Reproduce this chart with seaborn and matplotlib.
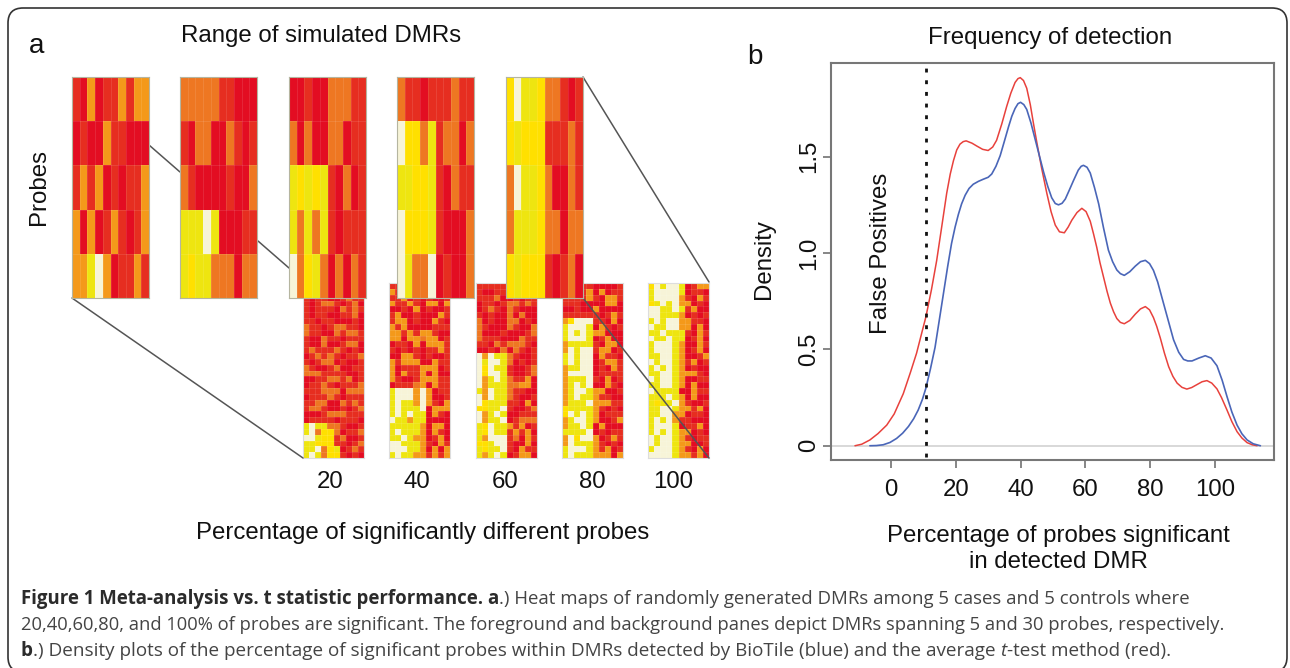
import numpy as np
import pandas as pd
import matplotlib
matplotlib.use('Agg')
import matplotlib.pyplot as plt
import seaborn as sns
from matplotlib.colors import ListedColormap
from matplotlib.lines import Line2D
from matplotlib.patches import FancyBboxPatch
from matplotlib.transforms import IdentityTransform

# heat map cell codes: 0 cream, 1 gold, 2 lemon, 3 amber, 4 orange, 5 red-orange, 6 red
front_20 = ['5636553533', '6566355666', '5353656553', '3636535653', '3320365535']
front_40 = ['4444455666', '5644664565', '4566665664', '2220266655', '2122444644']
front_60 = ['6656644455', '4646644655', '2121256465', '2424256555', '0412464645']
front_80 = ['4556555455', '0114254464', '2211256455', '0111256664', '0244065664']
front_100 = ['1022144565', '1211155545', '4022146645', '4222144644', '1211156546']

back_20 = ['5545565645', '6556544565', '5655665455', '5654456546',
           '5655564545', '5655665546', '5565566656', '4556544556',
           '4556645445', '5664556555', '5664665446', '5455545656',
           '6545456554', '5654465665', '4566546655', '4445555665',
           '6655445465', '6554565554', '5554446444', '6555456555',
           '5544664545', '5445665654', '6665444555', '6555565556',
           '2022445665', '2041146554', '0021154665', '2211155654',
           '2204126545', '2024115656']
back_40 = ['5565366655', '3565566356', '5536565665', '3553563363',
           '6656365665', '5366566635', '5336566356', '3536666555',
           '3353533566', '3363343365', '6556363335', '5656565535',
           '6633565665', '3533366355', '3655533365', '3635536366',
           '3566533355', '6555436355', '2000303655', '2000303665',
           '2022303563', '2022206333', '2020226356', '0223226666',
           '2222236336', '2022236356', '2202336536', '0022235635',
           '0002236363', '2022335353']
back_60 = ['5555556655', '5665565565', '5554665655', '6556544545',
           '6545645666', '5656646466', '4656644656', '4566645664',
           '4666566654', '4555666455', '5564544456', '6656464565',
           '0302245665', '0200246565', '0102256654', '0100256654',
           '0320245536', '0322244336', '2302245566', '0302245665',
           '0122255636', '1122056654', '0320266555', '0322065444',
           '2102235365', '2102253536', '2300054635', '1120056636',
           '2122056355', '2320265336']
back_80 = ['5555566665', '5555363655', '5555356335', '5556666336',
           '6656636666', '5555556535', '3100055636', '2000263565',
           '2020233666', '2000265366', '3222256336', '3020053365',
           '2020063556', '2020065335', '3220065635', '3000065555',
           '3222056365', '3202066356', '3200233665', '3202235566',
           '3222033355', '1222235656', '1020236555', '3200236653',
           '3220263666', '2222065655', '3010036535', '3022235656',
           '2000235365', '2022233363']
back_100 = ['1020026533', '2000026556', '2000035635', '1202033656',
            '0022025366', '0022236565', '2020033556', '0220033636',
            '2202225635', '0220226536', '2000236635', '2000236536',
            '2200236653', '0200235365', '2020236566', '2200233356',
            '0200236655', '2200236366', '0222266355', '2220236366',
            '2122035665', '2200233536', '2200336556', '2020355666',
            '2000265536', '2020233656', '0200235655', '0200233665',
            '2000235636', '0000233536']

front_panes = [front_20, front_40, front_60, front_80, front_100]
back_panes = [back_20, back_40, back_60, back_80, back_100]
pane_labels = ['20', '40', '60', '80', '100']
cell_colors = ['#F7F4D8', '#FFE000', '#EEE510', '#F4991A', '#EE7722', '#E62E20', '#E30D22']

# density curves
red_x = [-11.1, -9, -6.5, -4, -1.3, 1, 3.8, 6, 7.9, 9.5, 10.8, 12.5, 14.1, 15.7, 17.2, 18.3, 19.3, 20.3,
         21.3, 22.3, 23.2, 25, 26.5, 28.3, 30, 31.4, 32.6, 34.2, 35.7, 37, 38.3, 39.2, 39.9, 40.9, 41.9,
         43, 44, 45, 46.5, 48.1, 49.4, 50.7, 52, 53.5, 54.7, 55.8, 57.4, 58.9, 60.2, 61.5, 62.5, 63.5,
         64.5, 65.6, 66.7, 67.7, 68.7, 69.7, 70.8, 72, 73.7, 75.4, 77, 78.5, 79.8, 81, 82, 83.1, 84.4,
         85.7, 87, 88.3, 89.8, 91.3, 92.8, 94.4, 96, 97.5, 99, 100.6, 102, 103.7, 105.2, 106.8, 108.3,
         109.9, 111.5, 113]
red_y = [0, .008, .03, .063, .107, .165, .27, .38, .48, .585, .67, .81, .96, 1.14, 1.31, 1.41, 1.48, 1.535,
         1.565, 1.578, 1.582, 1.57, 1.555, 1.538, 1.532, 1.55, 1.585, 1.67, 1.76, 1.83, 1.885, 1.905, 1.91, 1.895, 1.855,
         1.77, 1.67, 1.575, 1.44, 1.31, 1.215, 1.145, 1.11, 1.105, 1.135, 1.17, 1.21, 1.232, 1.215, 1.165, 1.1, 1.03,
         .95, .875, .80, .74, .695, .66, .64, .633, .65, .683, .71, .722, .705, .665, .62, .56, .48,
         .41, .36, .325, .303, .294, .302, .317, .332, .338, .325, .295, .25, .185, .125, .073, .04,
         .016, .005, 0]
blue_x = [-6.5, -4.5, -2.4, -.3, 1.75, 3.6, 5.4, 7, 8.4, 9.7, 10.8, 12.2, 13.6, 14.9, 16.2, 17.5, 18.7, 19.8,
          20.8, 21.8, 22.9, 24.1, 25.4, 27, 28.5, 30, 31.1, 32.4, 33.7, 35, 36.3, 37.3, 38.3, 39.2, 40, 41, 41.9,
          43.2, 44.5, 45.8, 47.1, 48.4, 49.6, 50.7, 51.7, 52.8, 53.8, 55, 56.3, 57.8, 58.7, 59.4, 60.5, 61.5,
          62.8, 64.1, 65.6, 67.1, 68.4, 69.7, 70.8, 72, 73.7, 75.4, 77, 78.5, 79.8, 81, 82.3, 83.6, 85.4, 87.2,
          88.8, 90.3, 91.6, 92.9, 95, 97, 98.8, 100.6, 102.2, 103.7, 105.2, 106.8, 108.3, 109.9, 111.8, 114]
blue_y = [0, .001, .005, .017, .038, .065, .1, .14, .185, .24, .3, .4, .51, .65, .79, .93, 1.05, 1.135,
          1.2, 1.255, 1.3, 1.335, 1.357, 1.372, 1.383, 1.393, 1.41, 1.45, 1.505, 1.58, 1.656, 1.71, 1.75, 1.775, 1.782, 1.77, 1.745,
          1.675, 1.59, 1.505, 1.42, 1.345, 1.287, 1.257, 1.25, 1.258, 1.28, 1.325, 1.375, 1.43, 1.45, 1.455, 1.445, 1.415,
          1.34, 1.255, 1.13, 1.015, .955, .912, .893, .884, .903, .932, .955, .962, .945, .91, .85, .77, .66, .55,
          .485, .448, .44, .44, .455, .467, .455, .415, .34, .255, .175, .107, .062, .03, .01, 0]
x_ticks = [0, 20, 40, 60, 80, 100]
y_ticks = [0, 0.5, 1.0, 1.5]
y_tick_labels = ['0', '0.5', '1.0', '1.5']
cutoff = 10.8

sns.set_theme(style='white')
plt.rcParams['font.family'] = ['Liberation Sans', 'DejaVu Sans']

W, H = 1290, 668
fig = plt.figure(figsize=(12.9, 6.68), dpi=100)
cmap = ListedColormap(cell_colors)


def px_axes(x0, y0, x1, y1, z):
    # axes from pixel box, y counted from the top of the image
    return fig.add_axes([x0 / W, 1 - y1 / H, (x1 - x0) / W, (y1 - y0) / H], zorder=z)


def px_text(x, y, s, **kw):
    kw.setdefault('fontsize', 17.25)
    kw.setdefault('color', '#111111')
    kw.setdefault('ha', 'center')
    kw.setdefault('va', 'center')
    return fig.text(x / W, 1 - y / H, s, **kw)


def draw_pane(rows, box, z, edge):
    ax = px_axes(*box, z)
    cells = np.array([[int(c) for c in r] for r in rows])
    sns.heatmap(cells, vmin=-0.5, vmax=6.5, cmap=cmap, cbar=False, xticklabels=False,
                yticklabels=False, ax=ax)
    # faint cell borders, as in the scanned figure
    ax.hlines(range(1, cells.shape[0]), 0, 10, color='white', alpha=0.12, lw=0.6)
    ax.vlines(range(1, 10), 0, cells.shape[0], color='white', alpha=0.12, lw=0.6)
    for s in ax.spines.values():
        s.set_visible(True)
        s.set_color(edge)
        s.set_linewidth(0.8)


for rows, x in zip(back_panes, [303, 389, 476, 562, 648]):
    draw_pane(rows, (x, 283, x + 61, 458), 1, '#dddddd')
for rows, x in zip(front_panes, [72, 180, 289, 397, 506]):
    draw_pane(rows, (x, 77, x + 77, 298), 6, '#b5b5a0')

link_lines = [(72, 298, 303, 458), (149, 145, 180, 172), (258, 241, 289, 268),
              (583, 77, 709, 282), (583, 298, 709, 458)]
for x0, y0, x1, y1 in link_lines:
    fig.add_artist(Line2D([x0 / W, x1 / W], [1 - y0 / H, 1 - y1 / H], color='#555555', lw=1.1, zorder=5))

# density panel
ax = px_axes(831, 63, 1274, 460, 3)
ax.axhline(0, color='#d8d8d8', lw=1.4, zorder=1)
sns.lineplot(x=red_x, y=red_y, color='#E8413C', lw=1.1, sort=False, errorbar=None, ax=ax)
sns.lineplot(x=blue_x, y=blue_y, color='#4A66B8', lw=1.2, sort=False, errorbar=None, ax=ax)
ax.plot([cutoff, cutoff], [-0.057, 1.958], color='#111111', lw=2, ls=(0, (1.4, 2.8)))
ax.set_xlim(-18.5, 118.2)
ax.set_ylim(-0.074, 1.986)
ax.set_xticks(x_ticks)
ax.set_yticks(y_ticks)
ax.set_yticklabels(y_tick_labels, rotation=90, va='center')
ax.tick_params(axis='both', length=6, width=1.1, color='#666666', labelsize=17.25,
               labelcolor='#111111', left=True, bottom=True)
ax.tick_params(axis='x', pad=8)
ax.tick_params(axis='y', pad=2)
for s in ax.spines.values():
    s.set_visible(True)
    s.set_color('#777777')
    s.set_linewidth(1.5)

# panel text
px_text(37, 46, 'a', fontsize=20)
px_text(755, 57, 'b', fontsize=20)
px_text(321, 36, 'Range of simulated DMRs')
px_text(1050, 38, 'Frequency of detection')
px_text(39, 187, 'Probes', rotation=90)
px_text(764, 259, 'Density', rotation=90)
px_text(881, 253, 'False Positives', rotation=90, zorder=10)
for lab, x in zip(pane_labels, [330, 417, 505, 592, 673]):
    px_text(x, 482, lab)
px_text(423, 533, 'Percentage of significantly different probes')
px_text(1058, 536, 'Percentage of probes significant')
px_text(1058, 562, 'in detected DMR')

# rounded frame round the whole figure
r = 15
fig.add_artist(FancyBboxPatch((8 + r, H - 672 + r), 1279 - 2 * r, 664 - 2 * r,
                              boxstyle='round,pad=%d' % r, transform=IdentityTransform(),
                              fc='none', ec='#333333', lw=1.2))

# caption, written piece by piece so bold and italic runs follow on
cap_lines = [
    [('Figure 1 Meta-analysis vs. t statistic performance. a', 'bold', 'normal'),
     ('.) Heat maps of randomly generated DMRs among 5 cases and 5 controls where', 'normal', 'normal')],
    [('20,40,60,80, and 100% of probes are significant. The foreground and background panes depict DMRs spanning 5 and 30 probes, respectively.', 'normal', 'normal')],
    [('b', 'bold', 'normal'),
     ('.) Density plots of the percentage of significant probes within DMRs detected by BioTile (blue) and the average ', 'normal', 'normal'),
     ('t', 'normal', 'italic'), ('-test method (red).', 'normal', 'normal')],
]
rend = fig.canvas.get_renderer()
for line, base, size in zip(cap_lines, [604, 630, 656], [13.45, 13.27, 13.55]):
    x = 21
    for s, weight, style in line:
        t = fig.text(x / W, 1 - base / H, s, family='Open Sans', fontsize=size, weight=weight,
                     style=style, color='#2b2b2b' if weight == 'bold' else '#444444',
                     ha='left', va='baseline')
        x = t.get_window_extent(rend).x1

fig.savefig('out.png', dpi=100)
